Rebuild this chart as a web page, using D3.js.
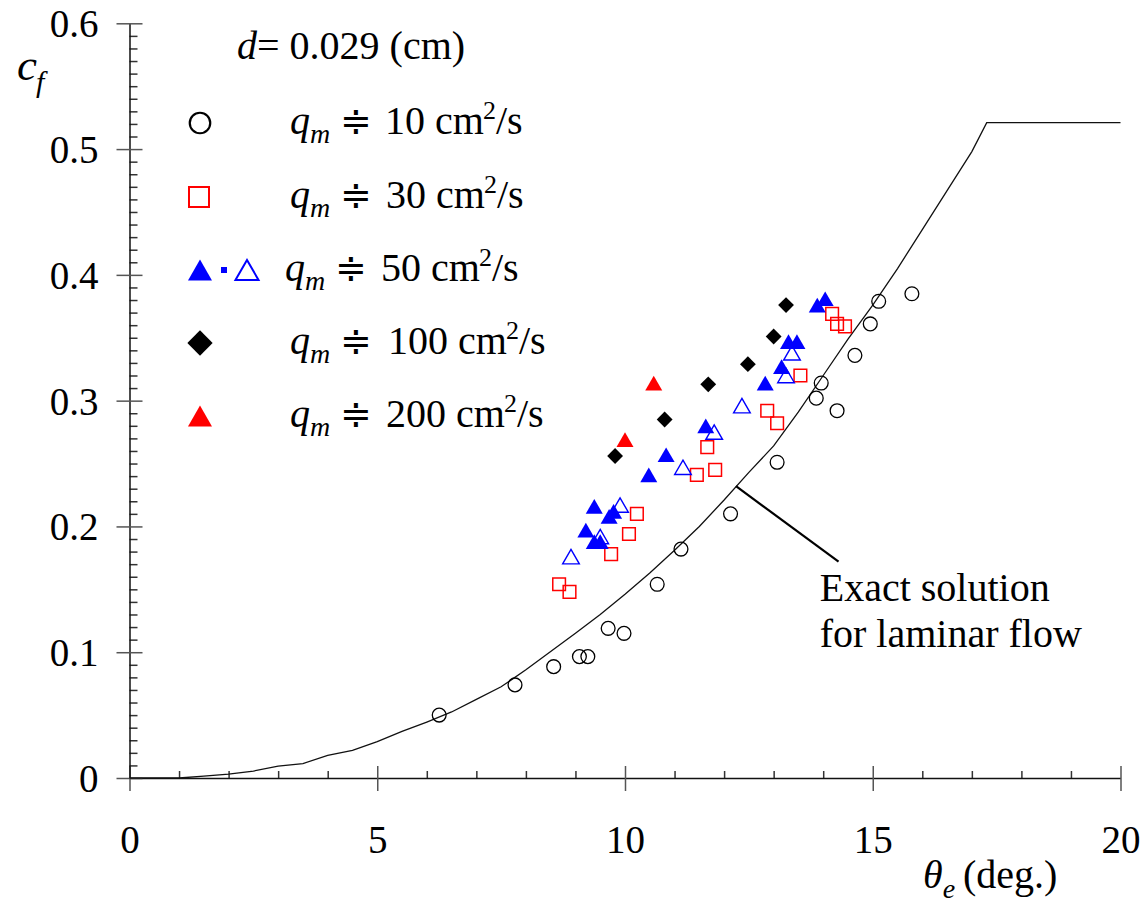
<!DOCTYPE html>
<html>
<head>
<meta charset="utf-8">
<script src="https://cdn.jsdelivr.net/npm/d3@7"></script>
</head>
<body style="margin:0; background:#fff">
<svg id="cf-plot" width="1146" height="907"></svg>
<script>
// measured points, [theta_e (deg), c_f]
const q10 = [[6.25, 0.050], [7.78, 0.074], [8.56, 0.0885], [9.08, 0.0965], [9.25, 0.0965],
    [9.66, 0.119], [9.98, 0.115], [10.65, 0.154], [11.13, 0.182], [12.13, 0.210],
    [13.07, 0.251], [13.86, 0.302], [13.96, 0.314], [14.28, 0.292], [14.64, 0.336],
    [14.95, 0.361], [15.12, 0.379], [15.79, 0.385]];
const q30 = [[8.67, 0.154], [8.88, 0.148], [9.72, 0.178], [10.08, 0.194], [10.24, 0.210],
    [11.45, 0.241], [11.82, 0.245], [11.66, 0.263], [12.87, 0.292], [13.07, 0.282],
    [13.54, 0.320], [14.18, 0.369], [14.28, 0.361], [14.44, 0.359]];
const q50Filled = [[9.38, 0.216], [9.21, 0.197], [9.38, 0.188], [9.50, 0.188], [9.68, 0.208],
    [9.77, 0.212], [10.48, 0.241], [10.83, 0.257], [11.63, 0.280], [12.83, 0.314],
    [13.16, 0.327], [13.30, 0.347], [13.47, 0.347], [13.88, 0.376], [14.04, 0.381]];
const q50Open = [[8.91, 0.176], [9.50, 0.192], [9.90, 0.217], [11.17, 0.247], [11.80, 0.275],
    [12.36, 0.296], [13.25, 0.320], [13.37, 0.338]];
const q100 = [[9.80, 0.256], [10.80, 0.285], [11.68, 0.313], [12.48, 0.329], [13.00, 0.351], [13.25, 0.376]];
const q200 = [[10.0, 0.269], [10.58, 0.314]];

// exact solution for laminar flow
const exactTheta = [0, 1, 1.5, 2, 2.5, 3, 3.5, 4, 4.5, 5, 5.5, 6, 6.5, 7, 7.5, 8, 8.5, 9, 9.5, 10,
    10.5, 11, 11.5, 12, 12.5, 13, 13.5, 14, 14.5, 15, 15.5, 16, 16.5, 17, 17.3, 20];
const exactCf = [0, 0, 0.0015, 0.003, 0.0055, 0.0095, 0.0115, 0.018, 0.022, 0.029, 0.037, 0.0445,
    0.0525, 0.0625, 0.0725, 0.086, 0.1005, 0.115, 0.130, 0.146, 0.163, 0.181, 0.200, 0.221,
    0.243, 0.264, 0.291, 0.320, 0.349, 0.376, 0.405, 0.436, 0.467, 0.498, 0.521, 0.521];

const xTicks = [0, 5, 10, 15, 20];
const yTicks = [0, 0.1, 0.2, 0.3, 0.4, 0.5, 0.6];
const legendValues = ['10', '30', '50', '100', '200'];

const serif = '"Liberation Serif"';
const svg = d3.select('#cf-plot');

const x = d3.scaleLinear().domain([0, 20]).range([129.5, 1120.5]);
const y = d3.scaleLinear().domain([0, 0.6]).range([778, 23.3]);

// every text gets the serif face inline
const label = (parent, px) => parent.append('text')
    .style('font-family', serif, 'important')
    .style('font-size', px + 'px')
    .style('fill', '#000');

// minor ticks
svg.append('g')
    .attr('transform', `translate(0,${y(0)})`)
    .call(d3.axisBottom(x)
        .tickValues(d3.range(1, 20).filter(v => v % 5 !== 0))
        .tickSize(-7)
        .tickFormat(''))
    .call(g => g.select('.domain').remove())
    .call(g => g.selectAll('line').attr('stroke', '#333').attr('stroke-width', 1.5));

svg.append('g')
    .attr('transform', `translate(${x(0)},0)`)
    .call(d3.axisLeft(y)
        .tickValues(d3.range(1, 60).filter(v => v % 10 !== 0).map(v => v / 100))
        .tickSize(-8)
        .tickFormat(''))
    .call(g => g.select('.domain').remove())
    .call(g => g.selectAll('line').attr('stroke', '#333').attr('stroke-width', 1.5));

// major axes
const xAxis = svg.append('g')
    .attr('transform', `translate(0,${y(0)})`)
    .call(d3.axisBottom(x).tickValues(xTicks).tickSizeInner(13).tickSizeOuter(0).tickFormat(d3.format('d')));

xAxis.selectAll('.tick line').attr('y1', -12).attr('stroke', '#555').attr('stroke-width', 1.5);
xAxis.selectAll('.tick text').attr('y', 75).attr('dy', 0);

const yAxis = svg.append('g')
    .attr('transform', `translate(${x(0)},0)`)
    .call(d3.axisLeft(y).tickValues(yTicks).tickSizeInner(13).tickSizeOuter(0)
        .tickFormat(d => d === 0 ? '0' : d3.format('.1f')(d)));

yAxis.selectAll('.tick line').attr('x1', 13).attr('stroke', '#555').attr('stroke-width', 1.5);
yAxis.selectAll('.tick text').attr('x', -31).attr('dy', 13.5);

svg.selectAll('.domain').attr('stroke', '#111').attr('stroke-width', 1.5);
xAxis.attr('font-family', serif);
yAxis.attr('font-family', serif);
svg.selectAll('.tick text')
    .style('font-family', serif, 'important')
    .style('font-size', '39px')
    .style('fill', '#000');

// axis titles
const yTitle = label(svg, 45).attr('x', 17).attr('y', 80);
yTitle.append('tspan').style('font-style', 'italic').text('c');
yTitle.append('tspan').attr('x', 36).attr('dy', 12).style('font-style', 'italic').style('font-size', '30px').text('f');

const xTitle = label(svg, 40).attr('x', 923).attr('y', 888);
xTitle.append('tspan').style('font-style', 'italic').text('θ');
xTitle.append('tspan').attr('dy', 10).style('font-style', 'italic').style('font-size', '28px').text('e');
xTitle.append('tspan').attr('x', 963).attr('dy', -10).text('(deg.)');

// exact solution curve
const line = d3.line()
    .x(d => x(d[0]))
    .y(d => y(d[1]));

svg.append('path')
    .datum(exactTheta.map((t, i) => [t, exactCf[i]]))
    .attr('d', line)
    .attr('fill', 'none')
    .attr('stroke', '#111')
    .attr('stroke-width', 1.3);

// leader + annotation
svg.append('line')
    .attr('x1', x(12.24)).attr('y1', y(0.232))
    .attr('x2', x(14.31)).attr('y2', y(0.172))
    .attr('stroke', '#000')
    .attr('stroke-width', 2.2);

label(svg, 40).attr('x', x(13.93)).attr('y', y(0.1405)).text('Exact solution');
label(svg, 40).attr('x', x(13.93)).attr('y', y(0.1045)).text('for laminar flow');

// markers
const triShift = area => Math.sqrt(area / (Math.sqrt(3) * 3)) / 2;

function drawSeries(data, type, area, fill, stroke, sw, rotate, dy) {
    svg.append('g')
        .selectAll('path')
        .data(data)
        .enter()
        .append('path')
        .attr('d', d3.symbol().type(type).size(area)())
        .attr('transform', d => `translate(${x(d[0])},${y(d[1]) + (dy || 0)})` + (rotate ? ' rotate(45)' : ''))
        .attr('fill', fill)
        .attr('stroke', stroke)
        .attr('stroke-width', sw);
}

drawSeries(q10, d3.symbolCircle, 150, 'none', '#000', 1.3);
drawSeries(q30, d3.symbolSquare, 160, 'none', '#f00', 1.5);
drawSeries(q50Open, d3.symbolTriangle, 120, 'none', '#00f', 1.4, false, triShift(120));
drawSeries(q50Filled, d3.symbolTriangle, 125, '#00f', 'none', 0, false, triShift(125));
drawSeries(q100, d3.symbolSquare, 125, '#000', 'none', 0, true);
drawSeries(q200, d3.symbolTriangle, 125, '#f00', 'none', 0, false, triShift(125));

// legend
const legend = svg.append('g');

label(legend, 40).attr('x', 237).attr('y', 59)
    .call(t => t.append('tspan').style('font-style', 'italic').text('d'))
    .call(t => t.append('tspan').text('= 0.029 (cm)'));

const rowY = [123, 197, 270, 343, 416];
const legendSym = (type, area) => d3.symbol().type(type).size(area)();

legend.append('path').attr('d', legendSym(d3.symbolCircle, 330))
    .attr('transform', `translate(200,${rowY[0]})`)
    .attr('fill', 'none').attr('stroke', '#000').attr('stroke-width', 2.2);
legend.append('path').attr('d', legendSym(d3.symbolSquare, 400))
    .attr('transform', `translate(199,${rowY[1]})`)
    .attr('fill', 'none').attr('stroke', '#f00').attr('stroke-width', 2);
legend.append('path').attr('d', legendSym(d3.symbolTriangle, 250))
    .attr('transform', `translate(200,${rowY[2] + triShift(250)})`)
    .attr('fill', '#00f');
legend.append('rect').attr('x', 221).attr('y', rowY[2] - 3).attr('width', 6).attr('height', 6)
    .attr('fill', '#00f');
legend.append('path').attr('d', legendSym(d3.symbolTriangle, 230))
    .attr('transform', `translate(247,${rowY[2] + triShift(230)})`)
    .attr('fill', 'none').attr('stroke', '#00f').attr('stroke-width', 2);
legend.append('path').attr('d', legendSym(d3.symbolSquare, 320))
    .attr('transform', `translate(200,${rowY[3]}) rotate(45)`)
    .attr('fill', '#000');
legend.append('path').attr('d', legendSym(d3.symbolTriangle, 250))
    .attr('transform', `translate(200,${rowY[4] + triShift(250)})`)
    .attr('fill', '#f00');

const qX = [290, 290, 285, 290, 290];
const numX = [385, 386, 381, 388, 386];

legendValues.forEach((v, i) => {
    const t = label(legend, 40).attr('y', rowY[i] + 11);
    t.append('tspan').attr('x', qX[i]).style('font-style', 'italic').text('q');
    t.append('tspan').attr('dy', 9).style('font-style', 'italic').style('font-size', '28px').text('m');
    t.append('tspan').attr('x', qX[i] + 50).attr('dy', -9).style('font-size', '38px').text('≑');
    t.append('tspan').attr('x', numX[i]).text(v + ' cm');
    t.append('tspan').attr('dy', -15).attr('dx', -1).style('font-size', '26px').text('2');
    t.append('tspan').attr('dy', 15).text('/s');
});
</script>
</body>
</html>
